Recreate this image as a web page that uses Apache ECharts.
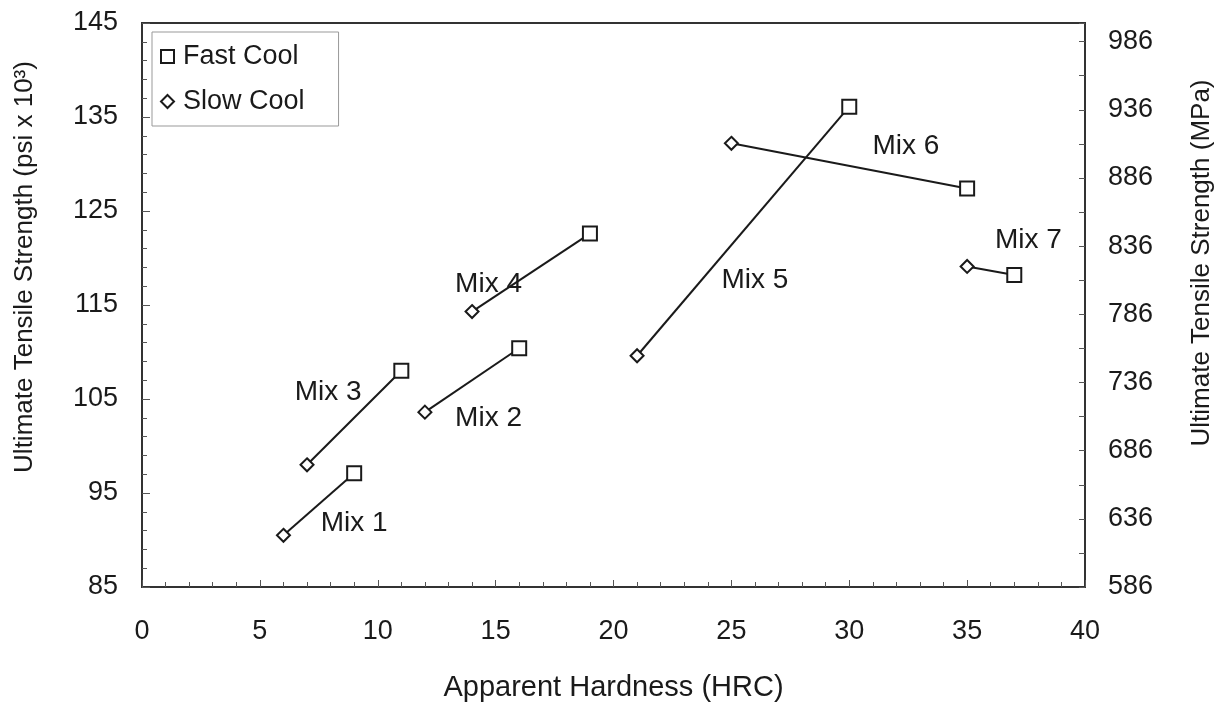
<!DOCTYPE html>
<html>
<head>
<meta charset="utf-8">
<script src="https://cdn.jsdelivr.net/npm/echarts@6/dist/echarts.min.js"></script>
<style>
  html, body { margin: 0; padding: 0; background: #fff; }
  #chart { width: 1228px; height: 708px; }
</style>
</head>
<body>
<div id="chart"></div>
<script>
// hardness (HRC) vs tensile strength (ksi), one pair per mix
const mixNames = ['Mix 1', 'Mix 2', 'Mix 3', 'Mix 4', 'Mix 5', 'Mix 6', 'Mix 7'];
const slowHardness = [6, 12, 7, 14, 21, 25, 35];
const slowStrength = [90.5, 103.6, 98, 114.3, 109.6, 132.2, 119.1];
const fastHardness = [9, 16, 11, 19, 30, 35, 37];
const fastStrength = [97.1, 110.4, 108, 122.6, 136.1, 127.4, 118.2];

// where the mix names sit, in data units
const labelHardness = [9.0, 14.7, 7.9, 14.7, 26.0, 32.4, 37.6];
const labelStrength = [91.8, 103.0, 105.7, 117.2, 117.6, 131.9, 121.9];

const KSI_TO_MPA = 6.894757;
const psiMin = 85, psiMax = 145;

const font = 'Liberation Sans, Arial, Helvetica, sans-serif';
const ink = '#1a1a1a';

const chart = echarts.init(document.getElementById('chart'));

const pairLines = mixNames.map((name, i) => ({
  type: 'line',
  name: name,
  data: [[slowHardness[i], slowStrength[i]], [fastHardness[i], fastStrength[i]]],
  showSymbol: false,
  symbol: 'none',
  lineStyle: { color: ink, width: 2 },
  z: 2,
  silent: true,
}));

const option = {
  animation: false,
  backgroundColor: '#fff',
  textStyle: { fontFamily: font, color: ink },
  grid: {
    left: 142, right: 143, top: 23, bottom: 121,
    show: true, borderColor: '#333', borderWidth: 2, backgroundColor: 'transparent',
  },
  legend: {
    data: ['Fast Cool', 'Slow Cool'],
    orient: 'vertical',
    left: 152, top: 32,
    itemWidth: 13, itemHeight: 13,
    itemGap: 18,
    padding: [11, 34, 11, 8],
    backgroundColor: '#fff',
    borderColor: '#999',
    borderWidth: 1,
    textStyle: { fontSize: 27, fontFamily: font, color: ink, padding: [0, 0, 0, 4] },
  },
  xAxis: {
    type: 'value',
    min: 0, max: 40, interval: 5,
    name: 'Apparent Hardness (HRC)',
    nameLocation: 'middle',
    nameGap: 86,
    nameTextStyle: { fontSize: 29, color: ink, fontFamily: font },
    axisLine: { lineStyle: { color: '#333', width: 2 } },
    axisTick: { inside: true, length: 7, lineStyle: { color: '#555' } },
    minorTick: { show: true, splitNumber: 5, length: 5, lineStyle: { color: '#555' } },
    axisLabel: { fontSize: 27, color: ink, margin: 31, fontFamily: font },
    splitLine: { show: false },
  },
  yAxis: [
    {
      type: 'value',
      min: psiMin, max: psiMax, interval: 10,
      name: 'Ultimate Tensile Strength (psi x 10³)',
      nameLocation: 'middle',
      nameRotate: 90,
      nameGap: 104,
      nameTextStyle: { fontSize: 26, color: ink, fontFamily: font, padding: [0, 0, 0, 76] },
      axisLine: { lineStyle: { color: '#333', width: 2 } },
      axisTick: { inside: true, length: 8, lineStyle: { color: '#555' } },
      minorTick: { show: true, splitNumber: 5, length: 5, lineStyle: { color: '#555' } },
      axisLabel: { fontSize: 27, color: ink, margin: 24, fontFamily: font },
      splitLine: { show: false },
    },
    {
      type: 'value',
      position: 'right',
      min: psiMin * KSI_TO_MPA, max: psiMax * KSI_TO_MPA, interval: 50,
      name: 'Ultimate Tensile Strength (MPa)',
      nameLocation: 'middle',
      nameRotate: 90,
      nameGap: 104,
      nameTextStyle: { fontSize: 26, color: ink, fontFamily: font, padding: [0, 0, 0, 84] },
      axisLine: { lineStyle: { color: '#333', width: 2 } },
      axisTick: { inside: true, length: 6, lineStyle: { color: '#555' } },
      minorTick: { show: true, splitNumber: 2, length: 6, lineStyle: { color: '#555' } },
      axisLabel: {
        fontSize: 27, color: ink, margin: 23, fontFamily: font,
        showMaxLabel: false,
        formatter: v => Math.round(v),
      },
      splitLine: { show: false },
    },
  ],
  series: [
    ...pairLines,
    {
      type: 'scatter',
      name: 'Fast Cool',
      symbol: 'rect',
      symbolSize: 14,
      data: fastHardness.map((h, i) => [h, fastStrength[i]]),
      itemStyle: { color: '#fff', borderColor: ink, borderWidth: 2, opacity: 1 },
      z: 5,
    },
    {
      type: 'scatter',
      name: 'Slow Cool',
      symbol: 'diamond',
      symbolSize: 13,
      data: slowHardness.map((h, i) => [h, slowStrength[i]]),
      itemStyle: { color: '#fff', borderColor: ink, borderWidth: 2, opacity: 1 },
      z: 5,
    },
    {
      type: 'scatter',
      name: 'labels',
      symbolSize: 1,
      itemStyle: { color: 'rgba(0,0,0,0)', opacity: 1 },
      data: mixNames.map((n, i) => ({ value: [labelHardness[i], labelStrength[i]], name: n })),
      label: {
        show: true,
        position: 'inside',
        formatter: p => p.name,
        fontSize: 28,
        color: ink,
        fontFamily: font,
      },
      silent: true,
      z: 6,
    },
  ],
};

chart.setOption(option);
</script>
</body>
</html>
